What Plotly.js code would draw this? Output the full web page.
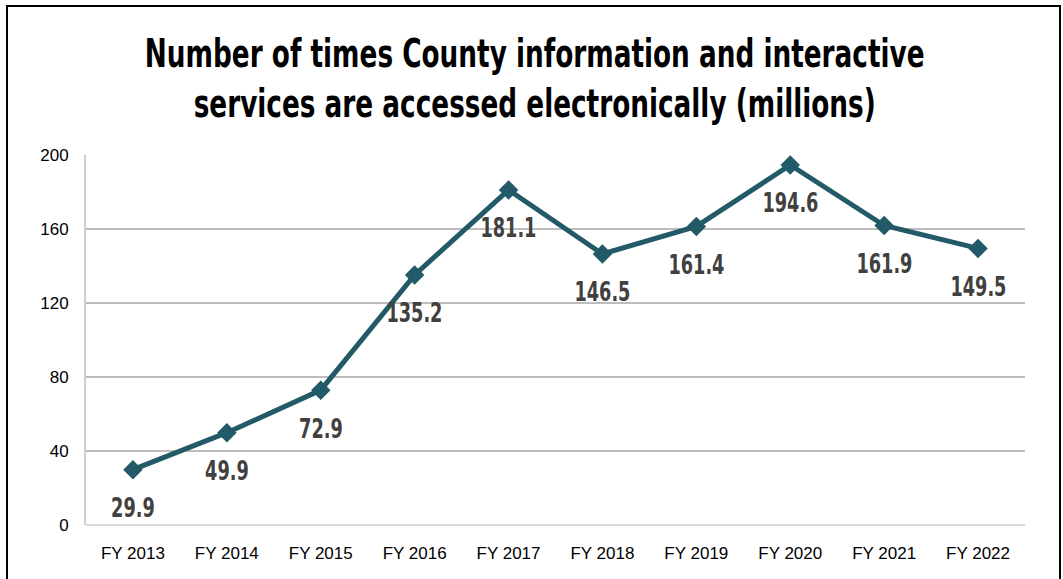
<!DOCTYPE html>
<html>
<head>
<meta charset="utf-8">
<script src="https://cdn.plot.ly/plotly-3.0.1.min.js"></script>
<style>
  html, body { margin: 0; padding: 0; background: #ffffff; overflow: hidden; }
  #chart { position: absolute; left: 0; top: 0; width: 1063px; height: 579px; }
  #frame { position: absolute; left: 6px; top: 5px; width: 1051px; height: 620px;
           border: 2px solid #000; pointer-events: none; }
</style>
</head>
<body>
<div id="chart"></div>
<div id="frame"></div>
<script>
const categories = ["FY 2013", "FY 2014", "FY 2015", "FY 2016", "FY 2017", "FY 2018", "FY 2019", "FY 2020", "FY 2021", "FY 2022"];
const values = [29.9, 49.9, 72.9, 135.2, 181.1, 146.5, 161.4, 194.6, 161.9, 149.5];
const yTicks = [0, 40, 80, 120, 160, 200];

const lineColor = "#225A67";
const condensed = "'DejaVu Sans Condensed', 'DejaVu Sans', sans-serif";
const tickFamily = "'Liberation Sans', Arial, sans-serif";

const trace = {
  x: categories,
  y: values,
  type: "scatter",
  mode: "lines+markers",
  line: { color: lineColor, width: 5 },
  marker: { symbol: "diamond", size: 15, color: lineColor },
  hoverinfo: "x+y",
  cliponaxis: false
};

const annotations = categories.map((c, i) => ({
  x: c, y: values[i], xref: "x", yref: "y",
  text: values[i].toFixed(1),
  showarrow: false,
  yshift: -38,
  font: { family: condensed, size: 27, color: "#404040", weight: "bold", stretch: "condensed" }
}));

const layout = {
  width: 1063,
  height: 579,
  margin: { l: 86, r: 38, t: 155, b: 54 },
  paper_bgcolor: "#ffffff",
  plot_bgcolor: "#ffffff",
  showlegend: false,
  title: {
    text: "<b>Number of times County information and interactive<br>services are accessed electronically (millions)</b>",
    font: { family: condensed, size: 39, color: "#000000", stretch: "condensed" },
    x: 0.503, xanchor: "center",
    y: 0.885, yanchor: "top", yref: "container"
  },
  xaxis: {
    type: "category",
    range: [-0.5, 9.5],
    showgrid: false,
    zeroline: false,
    showline: false,
    ticks: "",
    tickfont: { family: tickFamily, size: 17, color: "#000000" },
    ticklabelstandoff: 16,
    fixedrange: true
  },
  yaxis: {
    range: [0, 200],
    tickvals: yTicks,
    ticktext: yTicks.map(String),
    showgrid: true,
    gridcolor: "#BDBDBD",
    gridwidth: 1.5,
    zeroline: true,
    zerolinecolor: "#D9D9D9",
    zerolinewidth: 2,
    showline: true,
    linecolor: "#D0D0D0",
    linewidth: 2,
    ticks: "",
    tickfont: { family: tickFamily, size: 17, color: "#000000" },
    ticklabelstandoff: 12,
    fixedrange: true
  },
  annotations: annotations
};

// Narrow the bold text horizontally (the original uses a condensed face).
function squeeze(el, s) {
  const bb = el.getBBox();
  const cx = bb.x + bb.width / 2;
  const prev = el.getAttribute("transform") || "";
  el.setAttribute("transform", prev + " translate(" + cx + ",0) scale(" + s + ",1) translate(" + (-cx) + ",0)");
}

Plotly.newPlot("chart", [trace], layout, { displayModeBar: false, staticPlot: true }).then(gd => {
  gd.querySelectorAll(".gtitle").forEach(el => squeeze(el, 0.75));
  gd.querySelectorAll(".annotation-text").forEach(el => squeeze(el, 0.73));
});
</script>
</body>
</html>
